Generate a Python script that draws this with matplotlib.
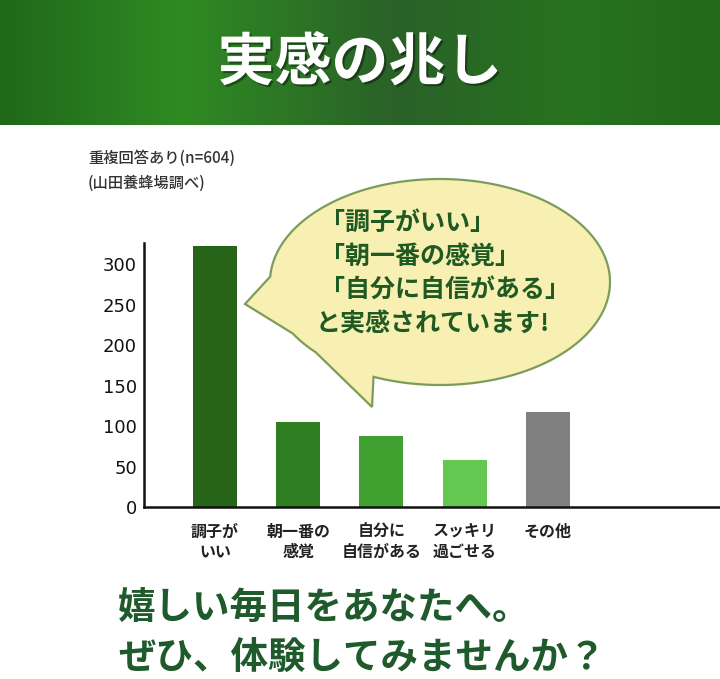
import matplotlib
matplotlib.use("Agg")
import matplotlib.pyplot as plt
import matplotlib.patheffects as pe
from matplotlib.patches import Polygon
from matplotlib.colors import LinearSegmentedColormap
import numpy as np

plt.rcParams['font.family'] = ['Noto Sans CJK JP', 'DejaVu Sans']

# data
categories = ['調子が\nいい', '朝一番の\n感覚', '自分に\n自信がある', 'スッキリ\n過ごせる', 'その他']
values = [322, 105, 88, 58, 117]
bar_colors = ['#256419', '#307e22', '#40a030', '#64c850', '#808080']
yticks = [0, 50, 100, 150, 200, 250, 300]

title = '実感の兆し'
note_lines = ['重複回答あり(n=604)', '(山田養蜂場調べ)']
bubble_lines = ['「調子がいい」', '「朝一番の感覚」', '「自分に自信がある」', 'と実感されています!']
closing_lines = ['嬉しい毎日をあなたへ。', 'ぜひ、体験してみませんか？']

W, H = 720, 679
fig = plt.figure(figsize=(W / 100, H / 100), dpi=100)
fig.patch.set_facecolor('white')

# bar chart axes (pixel box: x 144..720, y 243..507)
ax = fig.add_axes([144 / W, (H - 507) / H, (W - 144) / W, (507 - 243) / H])
x = np.arange(len(categories))
ax.bar(x, values, width=0.53, color=bar_colors)
ax.set_xlim(-0.853, 6.07)
ax.set_ylim(0, 326)
ax.set_yticks(yticks)
ax.set_yticklabels([str(v) for v in yticks], fontsize=13, family='DejaVu Sans', color='#111111')
ax.set_xticks(x)
ax.set_xticklabels(categories, fontsize=11.5, fontweight='bold', color='#222222', linespacing=1.3)
ax.tick_params(axis='both', length=0, pad=5)
ax.tick_params(axis='x', pad=12)
for s in ['top', 'right']:
    ax.spines[s].set_visible(False)
for s in ['left', 'bottom']:
    ax.spines[s].set_linewidth(1.8)
    ax.spines[s].set_color('#111111')

# overlay in pixel coords
ov = fig.add_axes([0, 0, 1, 1], zorder=5)
ov.set_xlim(0, W)
ov.set_ylim(H, 0)
ov.axis('off')
ov.patch.set_alpha(0)

# header gradient
cmap = LinearSegmentedColormap.from_list('hdr', [
    (0.0, '#1f681a'), (0.25, '#2f8a22'), (0.55, '#2a6128'), (0.8, '#27731f'), (1.0, '#22691b')])
grad = np.linspace(0, 1, 256)[None, :]
ov.imshow(grad, cmap=cmap, aspect='auto', extent=[0, W, 125, 0], zorder=0)
ov.text(360, 63, title, color='white', fontsize=41, fontweight='bold', ha='center', va='center',
        path_effects=[pe.withSimplePatchShadow(offset=(1.5, -1.5), shadow_rgbFace='black', alpha=0.4)])

# notes
ov.text(88, 158, note_lines[0], fontsize=11, fontweight='medium', color='#333333', ha='left', va='center')
ov.text(88, 183, note_lines[1], fontsize=11, fontweight='medium', color='#333333', ha='left', va='center')

# speech bubble
cx, cy, a, b = 440, 282, 170, 103
def ell(t):
    r = np.radians(t)
    return [cx + a * np.cos(r), cy + b * np.sin(r)]
pts = [ell(t) for t in np.linspace(-177, 113, 200)]
pts.append([372, 407])
pts += [ell(t) for t in np.linspace(137, 150, 10)]
pts.append([245, 304])
ov.add_patch(Polygon(pts, closed=True, facecolor='#f8f0b2', edgecolor='#7c9c5c', linewidth=1.6, zorder=3))
for i, line in enumerate(bubble_lines):
    ov.text(320 if i < 3 else 316, 223 + i * 33.5, line, fontsize=18, fontweight='bold',
            color='#1f5a22', ha='left', va='center', zorder=4)

# closing lines
ov.text(118, 608, closing_lines[0], fontsize=27, fontweight='bold', color='#1f5a2c', ha='left', va='center')
ov.text(118, 658, closing_lines[1], fontsize=27, fontweight='bold', color='#1f5a2c', ha='left', va='center')

fig.savefig('out.png', dpi=100)
